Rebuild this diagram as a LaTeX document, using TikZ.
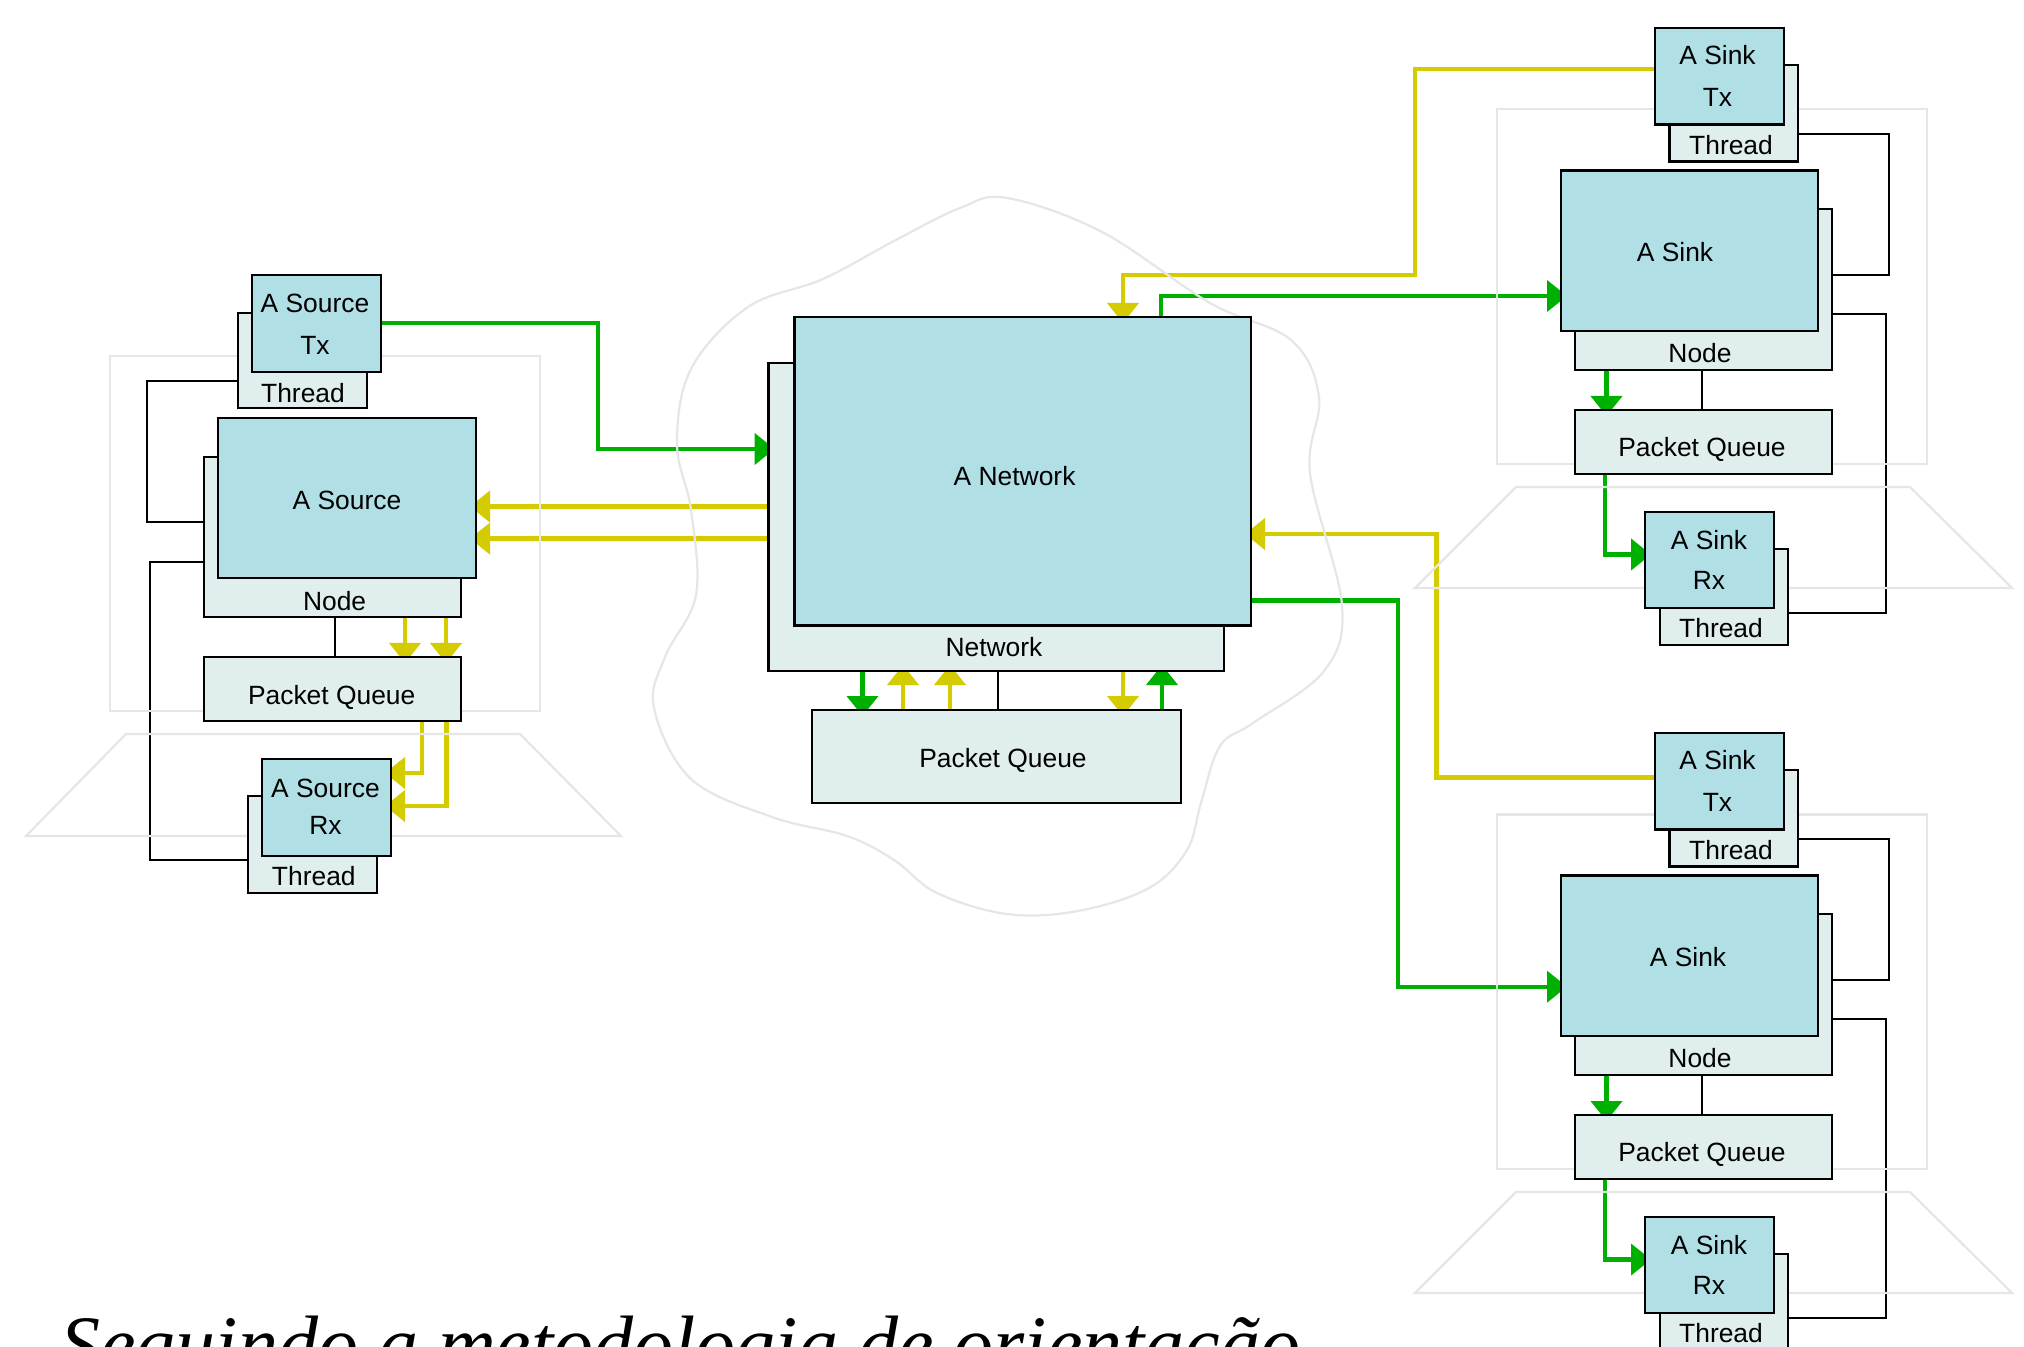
\documentclass[tikz,border=0pt]{standalone}
\usepackage{fontspec}
\setmainfont{Liberation Sans}
\newfontfamily\serifit{Liberation Serif}
\usetikzlibrary{arrows.meta}
\pgfdeclarelayer{bg}
\pgfdeclarelayer{conn}
\pgfdeclarelayer{deco}
\pgfsetlayers{bg,conn,deco,main}
\definecolor{frontfill}{RGB}{176,223,229}
\definecolor{backfill}{RGB}{224,238,238}
\definecolor{grn}{RGB}{0,176,0}
\definecolor{ylw}{RGB}{212,204,0}
\definecolor{lgray}{RGB}{230,230,230}
\newcommand\bx[6]{\node[#2, minimum width={((#5)-(#3))*0.5pt}, minimum height={((#6)-(#4))*0.5pt}] (#1) at ({((#3)+(#5))/2},{((#4)+(#6))/2}) {};}
\newcommand\tx[4]{\node[txt] (#1) at (#2,#3) {#4};}
\newcommand\sinkgroup[2]{%
 \begin{pgfonlayer}{deco}
  \draw[frame] (1497,109.4) rectangle (1927,464);
  \draw[frame] (1516,487) -- (1910,487) -- (2012,588) -- (1415,588) -- cycle;
 \end{pgfonlayer}
 \bx{#1TxT}{backbox}{1669.6}{65}{1798}{161.6}
 \tx{#1TxTl}{1731}{145}{Thread}
 \bx{#1Tx}{frontbox}{1655}{28}{1784}{124.6}
 \tx{#1Txa}{1717.5}{54.7}{A Sink}
 \tx{#1Txb}{1717.5}{96.8}{Tx}
 \bx{#1Node}{backbox}{1575}{209}{1832}{370}
 \tx{#1Nodel}{1700}{352.7}{Node}
 \bx{#1}{frontbox}{1561}{170.5}{1818}{331}
 \tx{#1l}{#2}{252.5}{A Sink}
 \bx{#1PQ}{backbox}{1575}{410}{1832}{474}
 \tx{#1PQl}{1702}{447}{Packet Queue}
 \bx{#1RxT}{backbox}{1660}{549}{1788}{645}
 \tx{#1RxTl}{1721}{628}{Thread}
 \bx{#1Rx}{frontbox}{1645}{512}{1774}{608}
 \tx{#1Rxa}{1709}{539.6}{A Sink}
 \tx{#1Rxb}{1709}{580}{Rx}
 \begin{pgfonlayer}{conn}
  \draw[blk] (#1TxT.east |- 0,134) -| (1889,275) -- (#1Node.east |- 0,275);
  \draw[blk] (#1Node.east |- 0,314.4) -| (1886,613) -- (#1RxT.east |- 0,613);
  \draw[blk] (#1Node.south -| 1702,0) -- (#1PQ.north -| 1702,0);
  \draw[gline,tip] (#1Node.south -| 1606.5,0) -- (#1PQ.north -| 1606.5,0);
  \draw[gline,tip] (#1PQ.south -| 1605,0) |- (#1Rx.west |- 0,554.5);
 \end{pgfonlayer}
}
\begin{document}
\begin{tikzpicture}[x=0.5pt,y=-0.5pt,
  frontbox/.style={draw=black, fill=frontfill, line width=1.45pt, inner sep=0pt, outer sep=0pt},
  backbox/.style={frontbox, fill=backfill},
  txt/.style={inner sep=0pt, font=\fontsize{13.2pt}{15pt}\selectfont, text height=9.45pt, text depth=0pt},
  blk/.style={draw=black, line width=1.05pt},
  gline/.style={draw=grn, line width=2.1pt},
  yline/.style={draw=ylw, line width=2.1pt},
  tip/.style={-{Triangle[width=15.5pt,length=10pt]}, shorten >=-3pt},
  frame/.style={draw=lgray, line width=1.1pt}]
\useasboundingbox (0,0) rectangle (2024,1347);
\begin{pgfonlayer}{bg}
 \fill[white] (0,0) rectangle (2024,1347);
\end{pgfonlayer}
\clip (0,0) rectangle (2024,1347);
% ---------- decorations ----------
\begin{pgfonlayer}{deco}
 \draw[frame] (110,356) rectangle (540,711);
 \draw[frame] (126,734) -- (520,734) -- (621,836) -- (26,836) -- cycle;
 \draw[frame] plot[smooth cycle, tension=0.6] coordinates {
  (1007,198) (1102,232) (1210,303) (1291,340) (1319,397) (1310,473)
  (1342,605) (1324,671) (1253,723) (1220,746) (1201,803) (1187,850)
  (1149,888) (1078,911) (1007,914) (937,893) (894,860) (847,836)
  (772,817) (691,779) (654,708) (665,657) (696,595) (691,510)
  (677,444) (691,369) (748,307) (823,279) (894,241) (960,208)};
\end{pgfonlayer}
% ---------- source group ----------
\bx{srcTxT}{backbox}{238}{313}{367}{408}
\tx{srcTxTl}{303}{392.7}{Thread}
\bx{srcTx}{frontbox}{252}{275}{381}{372}
\tx{srcTxa}{315}{303.5}{A Source}
\tx{srcTxb}{315}{345}{Tx}
\bx{srcNode}{backbox}{204}{457}{461}{617}
\tx{srcNodel}{334.6}{600.8}{Node}
\bx{src}{frontbox}{218}{418}{476}{578}
\tx{srcl}{347}{500.5}{A Source}
\bx{srcPQ}{backbox}{204}{657}{461}{721}
\tx{srcPQl}{331.7}{695}{Packet Queue}
\bx{srcRxT}{backbox}{248}{796}{377}{893}
\tx{srcRxTl}{313.8}{875.7}{Thread}
\bx{srcRx}{frontbox}{262}{759}{391}{856}
\tx{srcRxa}{325.5}{787.8}{A Source}
\tx{srcRxb}{325.5}{824.7}{Rx}
% ---------- network ----------
\bx{netB}{backbox}{768.6}{363}{1224}{671}
\tx{netBl}{994}{647}{Network}
\bx{net}{frontbox}{794.6}{317}{1251}{625.7}
\tx{netl}{1014.6}{476}{A Network}
\bx{netPQ}{backbox}{812}{710}{1181}{803}
\tx{netPQl}{1003}{758}{Packet Queue}
% ---------- sinks ----------
\sinkgroup{snkA}{1675}
\begin{scope}[shift={(0,705)}]
\sinkgroup{snkB}{1688}
\end{scope}
% ---------- connectors ----------
\begin{pgfonlayer}{conn}
 % source internal
 \draw[blk] (srcTxT.west |- 0,381) -| (147,522) -- (srcNode.west |- 0,522);
 \draw[blk] (srcNode.west |- 0,562) -| (150,860) -- (srcRxT.west |- 0,860);
 \draw[blk] (srcNode.south -| 335,0) -- (srcPQ.north -| 335,0);
 \draw[yline,tip] (srcNode.south -| 405,0) -- (srcPQ.north -| 405,0);
 \draw[yline,tip] (srcNode.south -| 446,0) -- (srcPQ.north -| 446,0);
 \draw[yline,tip] (srcPQ.south -| 422,0) |- (srcRx.east |- 0,773);
 \draw[yline,tip] (srcPQ.south -| 446.5,0) |- (srcRx.east |- 0,806);
 % source <-> network
 \draw[gline,tip] (srcTx.east |- 0,323) -| (598,449) -- (netB.west |- 0,449);
 \draw[yline,tip] (netB.west |- 0,506.5) -- (src.east |- 0,506.5);
 \draw[yline,tip] (netB.west |- 0,538.6) -- (src.east |- 0,538.6);
 % network <-> packet queue
 \draw[gline,tip] (netB.south -| 862.5,0) -- (netPQ.north -| 862.5,0);
 \draw[yline,tip] (netPQ.north -| 903,0) -- (netB.south -| 903,0);
 \draw[yline,tip] (netPQ.north -| 950,0) -- (netB.south -| 950,0);
 \draw[blk] (netB.south -| 998,0) -- (netPQ.north -| 998,0);
 \draw[yline,tip] (netB.south -| 1123,0) -- (netPQ.north -| 1123,0);
 \draw[gline,tip] (netPQ.north -| 1162,0) -- (netB.south -| 1162,0);
 % network <-> sinks
 \draw[yline,tip] (snkATx.west |- 0,68.7) -| (1415,275) -| (net.north -| 1123,0);
 \draw[gline,tip] (net.north -| 1161,0) |- (snkA.west |- 0,296);
 \draw[yline,tip] (snkBTx.west |- 0,777.5) -| (1436.5,534) -- (net.east |- 0,534);
 \draw[gline,tip] (net.east |- 0,600.5) -| (1398,986.7) -- (snkB.west |- 0,986.7);
\end{pgfonlayer}
% ---------- caption ----------
\node[anchor=base west, inner sep=0pt, font=\serifit\itshape\fontsize{40pt}{42pt}\selectfont] (title) at (60,1371) {Seguindo a metodologia de orientação};
\end{tikzpicture}
\end{document}
